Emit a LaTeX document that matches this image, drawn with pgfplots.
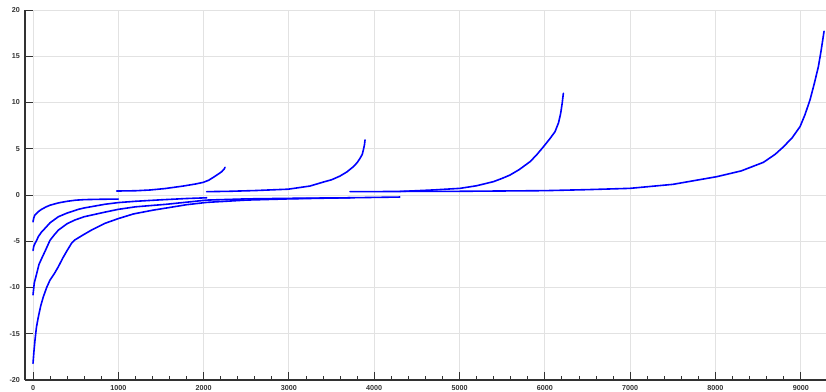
\documentclass[border=0pt]{standalone}
\usepackage{fontspec}
\setmainfont{Liberation Sans}
\usepackage{pgfplots}
\pgfplotsset{compat=1.18}
\definecolor{axgray}{RGB}{50,50,50}
\definecolor{gridgray}{RGB}{226,226,226}
\definecolor{pblue}{RGB}{0,0,255}
\pgfplotsset{pl/.style={pblue, no marks, line width=1.6pt, line join=round, line cap=round}}
\begin{document}
\begin{tikzpicture}
\useasboundingbox (-25pt,-11pt) rectangle (801pt,380pt);
\begin{axis}[
  at={(0pt,0pt)}, anchor=south west,
  scale only axis, width=801pt, height=370pt,
  xmin=-94, xmax=9296, ymin=-20, ymax=20,
  axis lines=left,
  axis line style={-, axgray, line width=1.1pt},
  xtick={0,1000,...,9000}, ytick={-20,-15,...,20},
  minor x tick num=4,
  xtick align=inside, ytick align=inside,
  major tick length=8pt, minor tick length=4.5pt,
  every tick/.style={axgray, line width=0.9pt},
  grid=major, major grid style={gridgray, line width=1pt},
  ticklabel style={font=\fontsize{7.2}{8}\selectfont\bfseries, text=black!80},
  /pgf/number format/assume math mode=true,
  /pgf/number format/1000 sep={},
  xticklabel style={yshift=-2pt},
  yticklabel style={xshift=-1.5pt},
]
% negative parts
\addplot[pl] coordinates {(0,-2.9) (8,-2.5) (20,-2.2) (40,-2.0) (62,-1.8) (100,-1.55) (150,-1.3) (200,-1.1) (260,-0.95) (300,-0.85) (400,-0.68) (500,-0.56) (600,-0.5) (800,-0.46) (1000,-0.44)};
\addplot[pl] coordinates {(0,-6.0) (10,-5.5) (25,-5.2) (43,-4.9) (62,-4.5) (100,-4.0) (141,-3.6) (200,-3.0) (297,-2.35) (400,-1.95) (531,-1.55) (600,-1.4) (844,-1.0) (1000,-0.82) (1200,-0.68) (1500,-0.52) (1800,-0.38) (2036,-0.3)};
\addplot[pl] coordinates {(0,-10.8) (15,-9.5) (43,-8.5) (70,-7.5) (102,-6.85) (150,-5.9) (199,-4.9) (250,-4.3) (297,-3.8) (400,-3.1) (492,-2.7) (600,-2.35) (844,-1.85) (1000,-1.55) (1200,-1.28) (1567,-1.0) (2036,-0.55) (2500,-0.42) (3000,-0.36) (3716,-0.3)};
\addplot[pl] coordinates {(0,-18.2) (10,-17) (23,-15.7) (40,-14.3) (62,-13.2) (90,-12) (121,-11) (160,-10) (199,-9.2) (250,-8.5) (297,-7.75) (350,-6.8) (400,-6.0) (453,-5.2) (492,-4.85) (590,-4.3) (688,-3.78) (844,-3.06) (1000,-2.55) (1176,-2.05) (1400,-1.65) (1567,-1.4) (1800,-1.05) (2036,-0.8) (2500,-0.55) (3000,-0.42) (3500,-0.33) (4000,-0.26) (4300,-0.22)};
% positive parts
\addplot[pl] coordinates {(981,0.43) (1200,0.46) (1372,0.54) (1550,0.7) (1762,0.97) (1900,1.18) (1997,1.37) (2060,1.6) (2114,1.91) (2170,2.25) (2212,2.52) (2240,2.8) (2251,3.0)};
\addplot[pl] coordinates {(2036,0.36) (2300,0.4) (2600,0.48) (2993,0.63) (3247,0.97) (3403,1.4) (3501,1.65) (3599,2.05) (3680,2.5) (3755,3.06) (3800,3.5) (3833,3.96) (3860,4.4) (3872,4.86) (3885,5.4) (3892,5.95)};
\addplot[pl] coordinates {(3716,0.36) (4300,0.38) (4700,0.55) (5006,0.72) (5200,1.0) (5396,1.44) (5500,1.8) (5592,2.16) (5700,2.75) (5826,3.6) (5900,4.3) (5982,5.2) (6060,6.1) (6119,6.84) (6160,7.8) (6185,8.8) (6203,9.9) (6217,11.0)};
\addplot[pl] coordinates {(4302,0.4) (5000,0.4) (6000,0.47) (6500,0.58) (6999,0.72) (7500,1.15) (8015,1.98) (8300,2.6) (8562,3.53) (8700,4.4) (8796,5.2) (8900,6.2) (8992,7.4) (9050,8.7) (9109,10.3) (9160,12.1) (9207,13.9) (9240,15.7) (9273,17.7)};
\end{axis}
\end{tikzpicture}
\end{document}
